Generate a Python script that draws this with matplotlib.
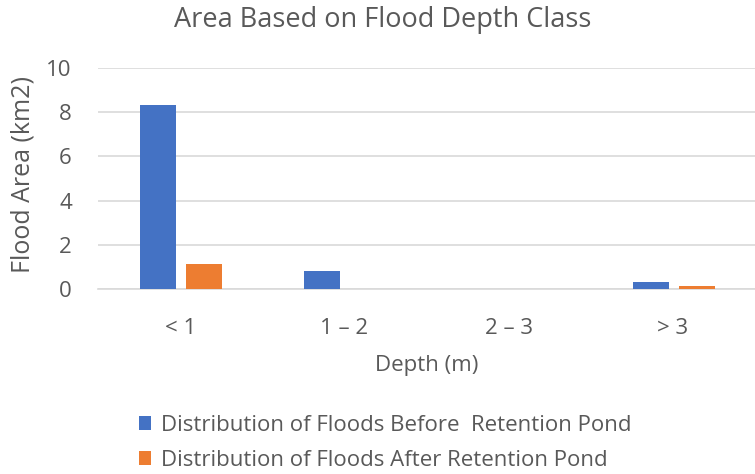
import matplotlib
matplotlib.use('Agg')
import matplotlib.pyplot as plt
import numpy as np

# data
categories = ['< 1', '1 – 2', '2 – 3', '> 3']
before_pond = [8.32, 0.83, 0.0, 0.32]
after_pond = [1.12, 0.0, 0.0, 0.12]
label_before = 'Distribution of Floods Before  Retention Pond'
label_after = 'Distribution of Floods After Retention Pond'

plt.rcParams['font.family'] = ['Open Sans', 'DejaVu Sans']
txt = '#595959'

fig = plt.figure(figsize=(7.55, 4.74), dpi=100)
ax = fig.add_axes([0.13, 0.39, 0.87, 0.467])

x = np.arange(len(categories))
w = 0.22
b1 = ax.bar(x - 0.135, before_pond, w, color='#4472C4', label=label_before, zorder=3)
b2 = ax.bar(x + 0.145, after_pond, w, color='#ED7D31', label=label_after, zorder=3)

ax.set_xlim(-0.5, 3.5)
ax.set_ylim(0, 10)
ax.set_yticks([0, 2, 4, 6, 8, 10])
ax.set_xticks(x)
ax.set_xticklabels(categories)
ax.yaxis.grid(True, color='#D9D9D9', linewidth=1.2, zorder=0)
for s in ['top', 'right', 'left']:
    ax.spines[s].set_visible(False)
ax.spines['bottom'].set_color('#D9D9D9')
ax.spines['bottom'].set_linewidth(1.2)
ax.tick_params(length=0, labelsize=16, colors=txt)
ax.tick_params(axis='x', pad=21)
ax.tick_params(axis='y', pad=19)

ax.set_xlabel('Depth (m)', fontsize=16, color=txt, labelpad=11)
ax.set_ylabel('Flood Area (km2)', fontsize=18, color=txt)
ax.yaxis.set_label_coords(-0.095, 0.52)
fig.text(0.507, 0.957, 'Area Based on Flood Depth Class', ha='center', va='center',
         fontsize=19.5, color=txt)

fig.legend(handles=[b1, b2], loc='lower left', bbox_to_anchor=(0.172, -0.012),
           frameon=False, fontsize=16, labelcolor=txt, handlelength=0.55,
           handleheight=0.55, handletextpad=0.45, labelspacing=0.62, borderaxespad=0)

fig.savefig('out.png', dpi=100)
plt.close()
